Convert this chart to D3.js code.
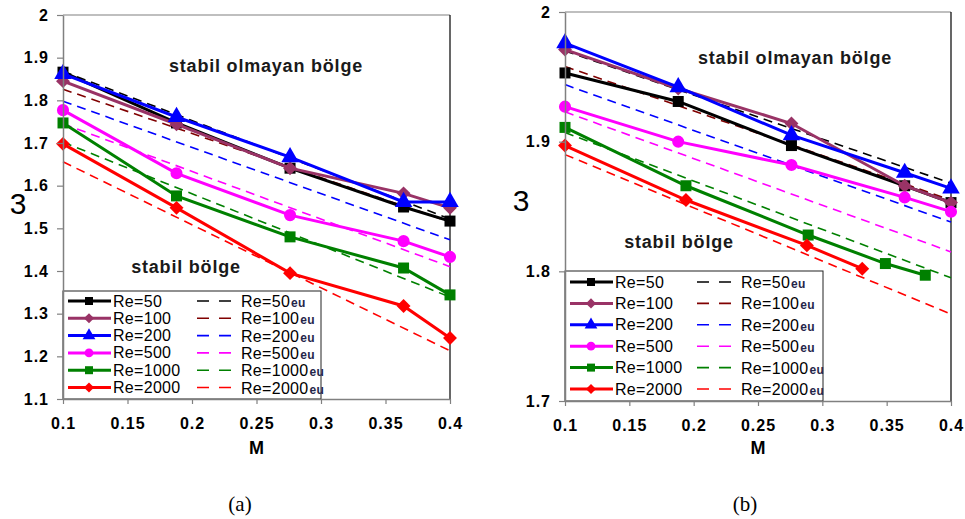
<!DOCTYPE html>
<html>
<head>
<meta charset="utf-8">
<script src="https://d3js.org/d3.v7.min.js"></script>
<style>
  body { margin: 0; background: #fff; }
  svg { display: block; }
  .tick text { font-family: "Liberation Sans", Arial, sans-serif; font-weight: bold; font-size: 16px; letter-spacing: 1px; fill: #000; }
</style>
</head>
<body>
<svg id="chart" width="965" height="519"></svg>
<script>
// ---- shared ----
var reLabels = ["Re=50", "Re=100", "Re=200", "Re=500", "Re=1000", "Re=2000"];
var euLabels = ["Re=50", "Re=100", "Re=200", "Re=500", "Re=1000", "Re=2000"];
var solidColors = ["#000000", "#993366", "#0000ff", "#ff00ff", "#008000", "#ff0000"];
var euColors = ["#000000", "#800000", "#0000ff", "#ff00ff", "#008000", "#ff0000"];
var markerTypes = ["square", "diamond", "triangle", "circle", "square", "diamond"];
var xTicks = [0.1, 0.15, 0.2, 0.25, 0.3, 0.35, 0.4];

// ---- panel (a) ----
var aX = [0.1, 0.188, 0.276, 0.364, 0.4];
var aRe50 = [1.866, 1.747, 1.641, 1.550, 1.517];
var aRe100 = [1.845, 1.744, 1.641, 1.582, 1.548];
var aRe200 = [1.862, 1.761, 1.667, 1.562, 1.562];
var aRe500 = [1.777, 1.629, 1.531, 1.470, 1.433];
var aRe1000 = [1.747, 1.576, 1.480, 1.407, 1.344];
var aRe2000 = [1.698, 1.548, 1.395, 1.318, 1.243];
var aEuX = [0.1, 0.4];
var aEu50 = [1.868, 1.522];
var aEu100 = [1.826, 1.515];
var aEu200 = [1.798, 1.473];
var aEu500 = [1.745, 1.410];
var aEu1000 = [1.702, 1.339];
var aEu2000 = [1.656, 1.213];
var aYTicks = [1.1, 1.2, 1.3, 1.4, 1.5, 1.6, 1.7, 1.8, 1.9, 2];

// ---- panel (b) ----
var bX = [0.1, 0.188, 0.276, 0.364, 0.4];
var bX1000 = [0.1, 0.194, 0.289, 0.349, 0.380];
var bX2000 = [0.1, 0.194, 0.288, 0.331];
var bRe50 = [1.953, 1.931, 1.897, 1.866, 1.853];
var bRe100 = [1.971, 1.941, 1.914, 1.866, 1.853];
var bRe200 = [1.976, 1.942, 1.905, 1.876, 1.864];
var bRe500 = [1.927, 1.900, 1.882, 1.857, 1.846];
var bRe1000 = [1.911, 1.866, 1.828, 1.806, 1.797];
var bRe2000 = [1.897, 1.855, 1.820, 1.802];
var bEuX = [0.1, 0.4];
var bEu50 = [1.970, 1.868];
var bEu100 = [1.958, 1.855];
var bEu200 = [1.944, 1.838];
var bEu500 = [1.923, 1.815];
var bEu1000 = [1.907, 1.795];
var bEu2000 = [1.890, 1.767];
var bYTicks = [1.7, 1.8, 1.9, 2];

var svg = d3.select("#chart");

function zip(xs, ys) { return ys.map((v, i) => ({x: xs[i], y: v})); }

function markerPath(type, s) {
  if (type == "square") return d3.symbol(d3.symbolSquare, s * s)();
  if (type == "diamond") return d3.symbol(d3.symbolSquare, s * s * 0.8)();
  if (type == "triangle") return d3.symbol(d3.symbolTriangle, s * s * 1.1)();
  return d3.symbol(d3.symbolCircle, s * s * 0.95)();
}

function drawMarker(g, type, color, cx, cy, s) {
  g.append("path")
    .attr("d", markerPath(type, s))
    .attr("transform", `translate(${cx},${cy})` + (type == "diamond" ? " rotate(45)" : ""))
    .attr("fill", color);
}

function drawPanel(p) {
  var x = d3.scaleLinear().domain([0.1, 0.4]).range([p.left, p.right]);
  var y = d3.scaleLinear().domain(p.yDomain).range([p.bottom, p.top]);
  var g = svg.append("g");

  // frame top / right
  g.append("line").attr("x1", p.left).attr("x2", p.right).attr("y1", p.top).attr("y2", p.top)
    .attr("stroke", "#808080").attr("stroke-width", 1.2);
  g.append("line").attr("x1", p.right).attr("x2", p.right).attr("y1", p.top).attr("y2", p.bottom)
    .attr("stroke", "#000").attr("stroke-width", 1.2);

  // dashed eu lines
  var line = d3.line().x(d => x(d.x)).y(d => y(d.y));
  p.eu.forEach((vals, i) => {
    g.append("path").datum(zip(p.euX, vals))
      .attr("d", line).attr("fill", "none")
      .attr("stroke", euColors[i]).attr("stroke-width", 1.6)
      .attr("stroke-dasharray", "9,6");
  });

  // solid series with markers
  p.series.forEach((vals, i) => {
    var pts = zip(p.xs[i], vals);
    g.append("path").datum(pts)
      .attr("d", line).attr("fill", "none")
      .attr("stroke", solidColors[i]).attr("stroke-width", 3);
    pts.forEach(d => drawMarker(g, markerTypes[i], solidColors[i], x(d.x), y(d.y), 11));
  });

  // labels in plot
  g.append("text").attr("x", p.unstable[0]).attr("y", p.unstable[1])
    .attr("text-anchor", "middle").attr("dominant-baseline", "middle")
    .style("font-family", "Liberation Sans, Arial, sans-serif").style("font-weight", "bold")
    .style("font-size", "18px").style("letter-spacing", "0.8px").style("fill", "#1a1a1a")
    .text("stabil olmayan bölge");
  g.append("text").attr("x", p.stable[0]).attr("y", p.stable[1])
    .attr("text-anchor", "middle").attr("dominant-baseline", "middle")
    .style("font-family", "Liberation Sans, Arial, sans-serif").style("font-weight", "bold")
    .style("font-size", "18px").style("letter-spacing", "0.8px").style("fill", "#1a1a1a")
    .text("stabil bölge");

  // legend
  var lg = g.append("g");
  lg.append("rect").attr("x", p.left).attr("y", p.legTop)
    .attr("width", p.legRight - p.left).attr("height", p.bottom - p.legTop)
    .attr("fill", "#fff").attr("stroke", "#222").attr("stroke-width", 1);
  reLabels.forEach((lab, i) => {
    var ry = p.legRow0 + i * p.legStep;
    lg.append("line").attr("x1", p.left + 5).attr("x2", p.left + 48).attr("y1", ry).attr("y2", ry)
      .attr("stroke", solidColors[i]).attr("stroke-width", 3);
    drawMarker(lg, markerTypes[i], solidColors[i], p.left + 26, ry, 8);
    lg.append("text").attr("x", p.left + 50).attr("y", ry).attr("dominant-baseline", "central")
      .style("font-family", "Liberation Sans, Arial, sans-serif").style("font-size", "16px")
      .style("letter-spacing", "0.3px")
      .text(lab);
    var dx = p.left + p.euOff;
    lg.append("line").attr("x1", dx).attr("x2", dx + 37).attr("y1", ry).attr("y2", ry)
      .attr("stroke", euColors[i]).attr("stroke-width", 1.6).attr("stroke-dasharray", "12,10");
    var t = lg.append("text").attr("x", dx + 44).attr("y", ry).attr("dominant-baseline", "central")
      .style("font-family", "Liberation Sans, Arial, sans-serif").style("font-size", "16px")
      .style("letter-spacing", "0.3px");
    t.append("tspan").text(euLabels[i]);
    t.append("tspan").attr("dx", 1).attr("dy", 2)
      .style("font-size", "12px").style("font-weight", "bold").style("fill", "#26264a").text("eu");
  });

  // axes
  var xa = g.append("g").attr("transform", `translate(0,${p.bottom})`)
    .call(d3.axisBottom(x).tickValues(xTicks).tickFormat(d => String(+d.toFixed(2))).tickSize(5).tickSizeOuter(0).tickPadding(14));
  var ya = g.append("g").attr("transform", `translate(${p.left},0)`)
    .call(d3.axisLeft(y).tickValues(p.yTicks).tickFormat(d => String(+d.toFixed(1))).tickSize(6).tickSizeOuter(0).tickPadding(8));
  [xa, ya].forEach(a => {
    a.select(".domain").attr("stroke", "#808080").attr("stroke-width", 1.5);
    a.selectAll(".tick line").attr("stroke", "#808080").attr("stroke-width", 1.2);
  });

  g.append("text").attr("x", (p.left + p.right) / 2).attr("y", 449)
    .attr("text-anchor", "middle").attr("dominant-baseline", "middle")
    .style("font-family", "Liberation Sans, Arial, sans-serif").style("font-weight", "bold")
    .style("font-size", "18px").text("M");
  g.append("text").attr("x", p.yLab[0]).attr("y", p.yLab[1])
    .attr("text-anchor", "middle").attr("dominant-baseline", "middle")
    .style("font-family", "Liberation Sans, Arial, sans-serif")
    .style("font-size", "30px").text("3");
  g.append("text").attr("x", p.caption).attr("y", 506)
    .attr("text-anchor", "middle").attr("dominant-baseline", "middle")
    .style("font-family", "Liberation Serif, Times New Roman, serif")
    .style("font-size", "21px").text(p.capText);
}

drawPanel({
  left: 63, right: 450, top: 15, bottom: 399, yDomain: [1.1, 2], yTicks: aYTicks,
  xs: [aX, aX, aX, aX, aX, aX],
  series: [aRe50, aRe100, aRe200, aRe500, aRe1000, aRe2000],
  euX: aEuX, eu: [aEu50, aEu100, aEu200, aEu500, aEu1000, aEu2000],
  unstable: [266, 67], stable: [186, 268],
  legTop: 291, legRight: 321, legRow0: 301, legStep: 17.3, euOff: 134,
  yLab: [18, 206], caption: 240, capText: "(a)"
});

drawPanel({
  left: 565, right: 951, top: 12, bottom: 401, yDomain: [1.7, 2], yTicks: bYTicks,
  xs: [bX, bX, bX, bX, bX1000, bX2000],
  series: [bRe50, bRe100, bRe200, bRe500, bRe1000, bRe2000],
  euX: bEuX, eu: [bEu50, bEu100, bEu200, bEu500, bEu1000, bEu2000],
  unstable: [795, 59], stable: [679, 243],
  legTop: 271, legRight: 823, legRow0: 282, legStep: 21.4, euOff: 132,
  yLab: [521, 203], caption: 745, capText: "(b)"
});
</script>
</body>
</html>
